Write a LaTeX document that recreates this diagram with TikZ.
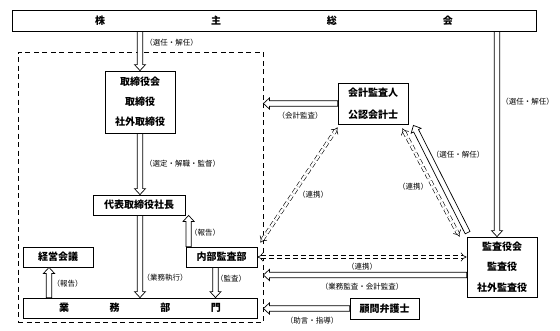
\documentclass[tikz,border=0pt]{standalone}
\usepackage{fontspec}
\setmainfont{Noto Sans CJK JP}
\usetikzlibrary{arrows.meta, positioning, calc}
\tikzset{
  every picture/.style={line width=0.8pt},
  box/.style={draw, fill=white, align=center, inner sep=0pt, font=\fontsize{10}{20}\selectfont\bfseries},
  lbl/.style={font=\fontsize{7.5}{9}\selectfont, inner sep=1pt},
  harrow/.style={draw, fill=white, line width=0.7pt, line join=miter},
  darrow/.style={double, double distance=2.5pt, line width=0.6pt, dash pattern=on 5pt off 3pt, {Implies}-{Implies}},
}
% hollow block arrow from #1 to #2
\newcommand\hollowarrow[2]{%
  \path[harrow] let \p1=#1, \p2=#2, \n1={atan2(\y2-\y1,\x2-\x1)}, \n2={veclen(\x2-\x1,\y2-\y1)} in
    [shift={(\p1)}, rotate=\n1] (0,2.7) -- (\n2-6,2.7) -- (\n2-6,5.5) -- (\n2,0)
    -- (\n2-6,-5.5) -- (\n2-6,-2.7) -- (0,-2.7) -- cycle;}

\begin{document}
\begin{tikzpicture}[x=1pt, y=-1pt]
  \useasboundingbox (0,0) rectangle (560,330);
  % company side
  \node[draw, dash pattern=on 5pt off 3.5pt, minimum width=245pt, minimum height=270pt] (exec) at (140.5,187) {};
  \node[box, minimum width=524pt, minimum height=21pt] (gm) at (274,20.5) {\makebox[358pt]{株\hfill 主\hfill 総\hfill 会}};
  \node[box, minimum width=70pt, minimum height=62pt] (board) at (140,102) {取締役会\\取締役\\社外取締役};
  \node[box, minimum width=92pt, minimum height=20pt] (ceo) at (139,205) {代表取締役社長};
  \node[box, minimum width=70pt, minimum height=20pt] (mgmt) at (58,257) {経営会議};
  \node[box, minimum width=71pt, minimum height=20pt] (audit) at (221.5,257) {内部監査部};
  \node[box, minimum width=234pt, minimum height=20pt] (ops) at (140,308) {\makebox[162pt]{業\hfill 務\hfill 部\hfill 門}};
  % outside
  \node[box, minimum width=70pt, minimum height=41pt] (cpa) at (373,103.5) {会計監査人\\[2pt]公認会計士};
  \node[box, minimum width=70pt, minimum height=60pt] (kab) at (502,267) {監査役会\\[0.5pt]監査役\\[0.5pt]社外監査役};
  \node[box, minimum width=69pt, minimum height=21pt] (lawyer) at (384.5,308.5) {顧問弁護士};

  \hollowarrow{(board.north |- gm.south)}{(board.north)}
  \hollowarrow{(board.south)}{(board.south |- ceo.north)}
  \hollowarrow{(board.south |- ceo.south)}{(board.south |- ops.north)}
  \hollowarrow{([xshift=-9pt]mgmt.south |- ops.north)}{([xshift=-9pt]mgmt.south)}
  \hollowarrow{([xshift=3pt]audit.north west)}{([xshift=3pt]audit.north west |- ceo.south)}
  \hollowarrow{([xshift=-6pt]audit.south)}{([xshift=-6pt]audit.south |- ops.north)}
  \hollowarrow{(cpa.west)}{(cpa.west -| exec.east)}
  \hollowarrow{([xshift=-5pt]kab.north |- gm.south)}{([xshift=-5pt]kab.north)}
  \hollowarrow{([yshift=-8pt]kab.west)}{([yshift=-8pt]kab.west -| exec.east)}
  \hollowarrow{(lawyer.west)}{(lawyer.west -| exec.east)}
  \hollowarrow{([shift={(1pt,4pt)}]kab.north west)}{([shift={(5pt,-1pt)}]cpa.south east)}

  % cooperation
  \draw[darrow] ([shift={(3pt,4pt)}]audit.north east) -- ([yshift=-3pt]cpa.south west);
  \draw[darrow] (audit.east) -- (audit.east -| kab.west);
  \draw[darrow] ([shift={(-6pt,-4pt)}]cpa.south east) -- ([xshift=-7pt]kab.north west);

  % labels
  \node[lbl] (l-elect) at (171.5,43) {（選任・解任）};
  \node[lbl] (l-super) at (182.5,164) {（選定・解職・監督）};
  \node[lbl] (l-exec) at (165,278) {（業務執行）};
  \node[lbl] (l-rep1) at (67.5,284) {（報告）};
  \node[lbl] (l-rep2) at (205,233) {（報告）};
  \node[lbl] (l-check) at (231,279) {（監査）};
  \node[lbl] (l-acc) at (300,116) {（会計監査）};
  \node[lbl] (l-elect2) at (527.5,102) {（選任・解任）};
  \node[lbl] (l-link1) at (313,195) {（連携）};
  \node[lbl] (l-link2) at (413,187) {（連携）};
  \node[lbl] (l-elect3) at (458,155) {（選任・解任）};
  \node[lbl] (l-link3) at (362,267) {（連携）};
  \node[lbl] (l-both) at (362,287) {（業務監査・会計監査）};
  \node[lbl] (l-advice) at (312,321) {（助言・指導）};
\end{tikzpicture}
\end{document}
